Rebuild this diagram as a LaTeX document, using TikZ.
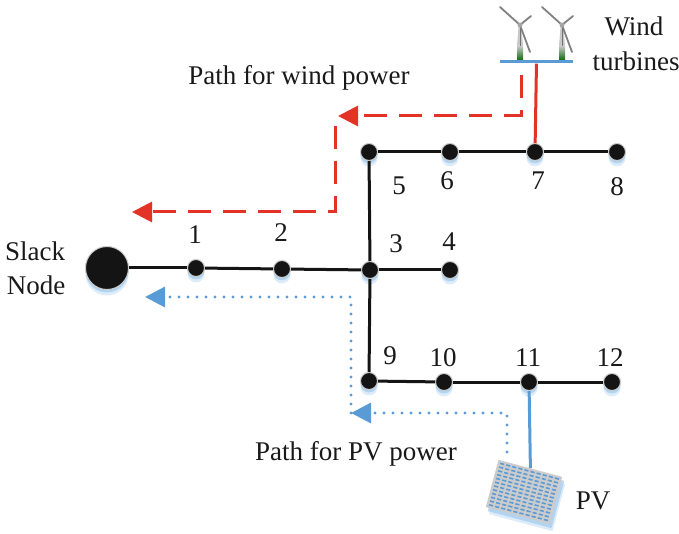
\documentclass[tikz,border=0pt]{standalone}
\usepackage{xcolor}
\usepackage{fontspec}
\setmainfont{Liberation Serif}
\usetikzlibrary{arrows.meta, positioning}
\definecolor{windred}{RGB}{227,50,38}
\definecolor{pvblue}{RGB}{91,155,213}
\definecolor{glowblue}{RGB}{160,202,238}

\begin{document}
\begin{tikzpicture}[
  x=1pt, y=-1pt,
  bus/.style={circle, fill=black!92, draw=black!20, line width=1pt, minimum size=17pt, inner sep=0pt,
    preaction={draw=none, fill=glowblue, opacity=0.35, transform canvas={yshift=-6pt}},
    preaction={draw=none, fill=glowblue, opacity=0.7, transform canvas={yshift=-3pt}}},
  slack/.style={bus, minimum size=43pt},
  wire/.style={line width=3pt, black!92},
  windwire/.style={line width=3pt, windred},
  pvwire/.style={line width=3pt, pvblue},
  windpath/.style={line width=3pt, windred, dash pattern=on 23pt off 12pt},
  pvpath/.style={line width=3.2pt, pvblue, line cap=round, dash pattern=on 0pt off 9pt},
  pathtip/.style={-{Triangle[length=20pt, width=20pt]}},
  blade/.style={black!50, line width=1.8pt, line cap=round},
  label/.style={font=\fontsize{27}{29}\selectfont, text=black!90, inner sep=0pt},
  panel/.style={rectangle, fill=black!20, minimum width=66pt, minimum height=49pt, inner sep=0pt, rotate=-15,
    preaction={draw=none, fill=glowblue, opacity=0.35, transform canvas={yshift=-7pt, xshift=3pt}},
    preaction={draw=none, fill=glowblue, opacity=0.7, transform canvas={yshift=-4pt, xshift=2pt}}},
]
\useasboundingbox (0,0) rectangle (679,534);

% buses
\node (slack) [slack] at (107,268) {};
\node (n1) [bus] at (196,268) {};
\node (n2) [bus] at (282,269) {};
\node (n3) [bus] at (370,270) {};
\node (n4) [bus] at (450,270) {};
\node (n5) [bus] at (369,152) {};
\node (n6) [bus] at (450,152) {};
\node (n7) [bus] at (535,152) {};
\node (n8) [bus] at (617,152) {};
\node (n9) [bus] at (369,381) {};
\node (n10) [bus] at (444,382) {};
\node (n11) [bus] at (529,382) {};
\node (n12) [bus] at (612,382) {};

% feeder
\draw [wire] (slack) -- (n1);
\draw [wire] (n1) -- (n2);
\draw [wire] (n2) -- (n3);
\draw [wire] (n3) -- (n4);
\draw [wire] (n3) -- (n5);
\draw [wire] (n5) -- (n6);
\draw [wire] (n6) -- (n7);
\draw [wire] (n7) -- (n8);
\draw [wire] (n3) -- (n9);
\draw [wire] (n9) -- (n10);
\draw [wire] (n10) -- (n11);
\draw [wire] (n11) -- (n12);

% turbines
\foreach \tx in {520,562} {
  \fill [black!22] (\tx-1.5,27) -- (\tx+1.5,27) -- (\tx+3,46) -- (\tx-3,46) -- cycle;
  \shade [top color=black!22, bottom color=green!40!black] (\tx-3,46) rectangle (\tx+3,61);
  \draw [black!55, line width=0.8pt] (\tx,27) -- (\tx,46);
  \draw [blade] (\tx,25) -- (\tx-20,7);
  \draw [blade] (\tx,25) -- (\tx+11,16);
  \draw [blade] (\tx,25) -- (\tx+10,52);
  \fill [black!35] (\tx,25) circle (2.5pt);
}
\node (bar) [rectangle, fill=pvblue, minimum width=73pt, minimum height=3pt, inner sep=0pt] at (536.5,62) {};
\draw [windwire] (bar) -- (n7);

% pv panel
\node (pv) [panel] at (524,492) {};
\begin{scope}[shift={(pv.center)}, rotate=-15]
\foreach \i in {0,...,9} \foreach \j in {0,...,11}
  \fill [pvblue] (-28.4+\i*6.3,-21.5+\j*3.9) ++(-2.1,-0.8) rectangle ++(4.2,1.6);
\end{scope}
\draw [pvwire] (n11) -- (pv.north);

% power paths
\coordinate (w0) at (521,75);
\coordinate (w1) at (521,116);
\coordinate (w2) at (338,116);
\coordinate (w3) at (335,126);
\coordinate (w4) at (335,212);
\coordinate (w5) at (132,212);
\draw [windpath, pathtip] (w0) -- (w1) -- (w2);
\draw [windpath, pathtip] (w3) -- (w4) -- (w5);

\coordinate (p0) at (507,452);
\coordinate (p1) at (507,413);
\coordinate (p2) at (351,413);
\coordinate (p3) at (351,297);
\coordinate (p4) at (145,297);
\draw [pvpath, pathtip] (p0) -- (p1) -- (p2);
\draw [pvpath, pathtip] (p2) -- (p3) -- (p4);

% labels
\node (lab1) [label] at (195,235) {1};
\node (lab2) [label] at (281,233) {2};
\node (lab3) [label] at (396,244) {3};
\node (lab4) [label] at (449,242) {4};
\node (lab5) [label] at (399,186) {5};
\node (lab6) [label] at (447,181) {6};
\node (lab7) [label] at (538,181) {7};
\node (lab8) [label] at (617,187) {8};
\node (lab9) [label] at (390,356) {9};
\node (lab10) [label] at (443,358) {10};
\node (lab11) [label] at (528,358) {11};
\node (lab12) [label] at (610,358) {12};
\node (slacktxt) [label] at (35,251) {Slack};
\node (nodetxt) [label] at (36,285) {Node};
\node (windtxt) [label] at (634,26) {Wind};
\node (turbtxt) [label] at (636,61) {turbines};
\node (pathwind) [label] at (299,78) {Path for wind power};
\node (pathpv) [label] at (356,454) {Path for PV power};
\node (pvtxt) [label] at (593,501) {PV};
\end{tikzpicture}
\end{document}
